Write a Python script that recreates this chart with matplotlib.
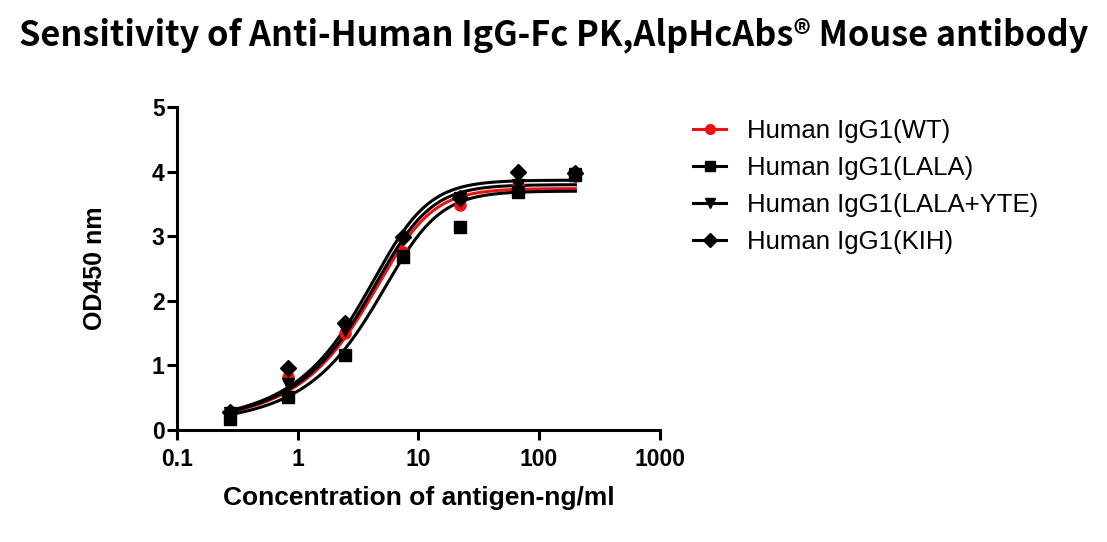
import matplotlib

matplotlib.use("Agg")
import matplotlib.pyplot as plt
import numpy as np

# antigen concentrations (ng/ml), 3-fold dilution series
conc = [0.274, 0.823, 2.47, 7.41, 22.2, 66.7, 200.0]

labels = ["Human IgG1(WT)", "Human IgG1(LALA)",
          "Human IgG1(LALA+YTE)", "Human IgG1(KIH)"]

od_wt = [0.25, 0.81, 1.50, 2.75, 3.49, 3.80, 3.93]
od_lala = [0.17, 0.50, 1.15, 2.68, 3.15, 3.68, 3.95]
od_yte = [0.25, 0.70, 1.55, 2.70, 3.60, 3.80, 3.97]
od_kih = [0.27, 0.96, 1.65, 2.99, 3.60, 4.00, 3.98]

# 5PL fit parameters: bottom, top, EC, hill, asymmetry
fit_wt = [0.10, 3.74, 6.8, 2.1, 0.45]
fit_lala = [0.08, 3.70, 7.8, 2.1, 0.45]
fit_yte = [0.10, 3.80, 6.6, 2.1, 0.45]
fit_kih = [0.10, 3.87, 6.27, 2.1, 0.45]

series = [od_wt, od_lala, od_yte, od_kih]
fits = [fit_wt, fit_lala, fit_yte, fit_kih]
colors = ["#ee1111", "black", "black", "black"]
markers = ["o", "s", "v", "D"]
msizes = [8, 8.5, 8.5, 8.5]


def five_pl(x, p):
    bottom, top, c, hill, s = p
    return bottom + (top - bottom) / (1 + (c / x) ** hill) ** s


plt.rcParams["font.family"] = ["Liberation Sans", "DejaVu Sans"]

fig = plt.figure(figsize=(11.07, 5.42), dpi=100)
ax = fig.add_axes([0.160, 0.2075, 0.436, 0.5945])

xs = np.logspace(np.log10(conc[0]), np.log10(conc[-1]), 300)
handles = []
for ys, p, c, m, ms, lab in zip(series, fits, colors, markers, msizes, labels):
    ax.plot(xs, five_pl(xs, p), color=c, lw=2.2, zorder=2)
    ax.plot(conc, ys, ls="none", marker=m, ms=ms, color=c, zorder=3)
    h, = ax.plot([], [], color=c, lw=2.2, marker=m, ms=ms - 1, label=lab)
    handles.append(h)

ax.set_xscale("log")
ax.set_xlim(0.1, 1000)
ax.set_ylim(0, 5)
ax.set_xticks([0.1, 1, 10, 100, 1000])
ax.set_xticklabels(["0.1", "1", "10", "100", "1000"])
ax.set_yticks([0, 1, 2, 3, 4, 5])
ax.minorticks_off()
ax.spines[["top", "right"]].set_visible(False)
for s in ["left", "bottom"]:
    ax.spines[s].set_linewidth(2.2)
ax.tick_params(width=2.2, length=7, labelsize=16.5)
ax.tick_params(axis="x", pad=6)
ax.tick_params(axis="y", pad=2)
for t in ax.get_xticklabels() + ax.get_yticklabels():
    t.set_fontweight("bold")

ax.set_xlabel("Concentration of antigen-ng/ml", fontsize=19, fontweight="bold",
              labelpad=11)
ax.set_ylabel("OD450 nm", fontsize=18, fontweight="bold", labelpad=32)

fig.legend(handles=handles, loc="upper left",
           bbox_to_anchor=(693 / 1107, 1 - 119 / 542), frameon=False,
           fontsize=18.5, handlelength=1.3, handletextpad=0.8,
           labelspacing=0.5, borderpad=0, borderaxespad=0, numpoints=1)

fig.text(0.5, 1 - 35 / 542, "Sensitivity of Anti-Human IgG-Fc PK,AlpHcAbs® Mouse antibody",
         ha="center", va="center", fontsize=24.7, fontweight="bold",
         family=["Noto Sans CJK SC", "DejaVu Sans"])

fig.savefig("out.png", dpi=100)
